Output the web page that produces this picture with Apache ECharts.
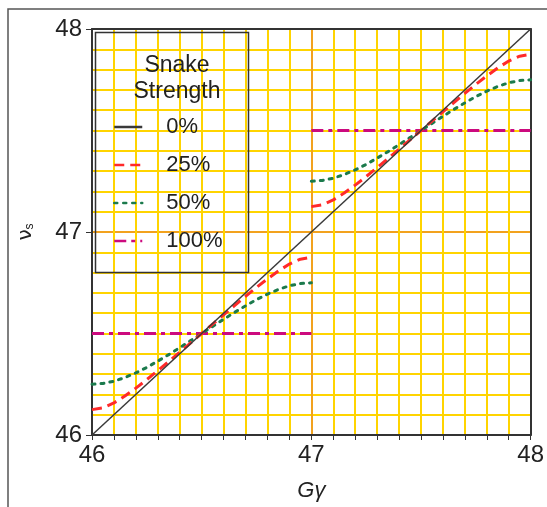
<!DOCTYPE html>
<html>
<head>
<meta charset="utf-8">
<script src="https://cdn.jsdelivr.net/npm/echarts@6/dist/echarts.min.js"></script>
<style>
  html, body { margin: 0; padding: 0; background: #fff; }
  #chart { width: 547px; height: 507px; }
</style>
</head>
<body>
<div id="chart"></div>
<script>
// G-gamma values, one half-range on each side of the integer 47
var gammaLo = [46.00, 46.05, 46.10, 46.15, 46.20, 46.25, 46.30, 46.35, 46.40, 46.45, 46.50,
               46.55, 46.60, 46.65, 46.70, 46.75, 46.80, 46.85, 46.90, 46.95, 47.00];
var gammaHi = [47.00, 47.05, 47.10, 47.15, 47.20, 47.25, 47.30, 47.35, 47.40, 47.45, 47.50,
               47.55, 47.60, 47.65, 47.70, 47.75, 47.80, 47.85, 47.90, 47.95, 48.00];

// spin tune
var nu0 = [46, 48];
var nu25Lo = [46.125, 46.134, 46.158, 46.192, 46.231, 46.273, 46.317, 46.362, 46.408, 46.454, 46.500,
              46.546, 46.592, 46.638, 46.683, 46.727, 46.769, 46.808, 46.842, 46.866, 46.875];
var nu25Hi = [47.125, 47.134, 47.158, 47.192, 47.231, 47.273, 47.317, 47.362, 47.408, 47.454, 47.500,
              47.546, 47.592, 47.638, 47.683, 47.727, 47.769, 47.808, 47.842, 47.866, 47.875];
var nu50Lo = [46.250, 46.254, 46.265, 46.283, 46.306, 46.333, 46.364, 46.396, 46.430, 46.465, 46.500,
              46.535, 46.570, 46.604, 46.636, 46.667, 46.694, 46.717, 46.735, 46.746, 46.750];
var nu50Hi = [47.250, 47.254, 47.265, 47.283, 47.306, 47.333, 47.364, 47.396, 47.430, 47.465, 47.500,
              47.535, 47.570, 47.604, 47.636, 47.667, 47.694, 47.717, 47.735, 47.746, 47.750];
var gamma100Lo = [46, 47], nu100Lo = [46.5, 46.5];
var gamma100Hi = [47, 48], nu100Hi = [47.5, 47.5];

var legendNames = ["0%", "25%", "50%", "100%"];
var axisTicks = [46, 47, 48];

function pairs(xs, ys) {
  return xs.map(function (x, i) { return [x, ys[i]]; });
}

var chart = echarts.init(document.getElementById("chart"), null, { renderer: "canvas" });

var red = { color: "#ff2a2a", width: 3, type: [10, 6] };
var green = { color: "#1b7a4c", width: 3, type: [3, 6], cap: "round" };
var magenta = { color: "#cc0a7e", width: 3, type: [12, 5, 4, 5] };
var black = { color: "#3a3a3a", width: 1.5, type: "solid" };

var option = {
  animation: false,
  textStyle: { fontFamily: "Liberation Sans, Arial, sans-serif" },
  grid: { left: 92, right: 15, top: 29, bottom: 72 },
  title: {
    text: "Snake\nStrength",
    left: 172,
    top: 48,
    textAlign: "center",
    textStyle: { fontSize: 23, fontWeight: "normal", color: "#222", lineHeight: 26 }
  },
  legend: {
    data: legendNames,
    orient: "vertical",
    left: 113,
    top: 116,
    padding: 0,
    itemWidth: 28,
    itemHeight: 14,
    itemGap: 16,
    itemStyle: { opacity: 0 },
    lineStyle: { width: 2.5 },
    textStyle: { fontSize: 22, color: "#222", lineHeight: 22, padding: [0, 0, 0, 19] },
    selectedMode: false
  },
  graphic: [
    { type: "rect", shape: { x: 8, y: 9, width: 620, height: 600 },
      style: { fill: "none", stroke: "#555", lineWidth: 1.5 }, silent: true },
    { type: "rect", shape: { x: 95.5, y: 32.5, width: 153, height: 240 }, z: 50,
      style: { fill: "none", stroke: "#333", lineWidth: 1.5 }, silent: true }
  ],
  xAxis: [{
    type: "value",
    min: 46, max: 48, interval: 1,
    name: "Gγ",
    nameLocation: "middle",
    nameGap: 45,
    nameTextStyle: { fontSize: 22, fontStyle: "italic", color: "#222" },
    axisLine: { show: true, lineStyle: { color: "#333", width: 2 } },
    axisTick: { show: true, length: 5, lineStyle: { color: "#333", width: 1 } },
    minorTick: { show: true, splitNumber: 10, length: 5, lineStyle: { color: "#333", width: 1 } },
    axisLabel: { fontSize: 24, color: "#222", margin: 8,
      formatter: function (v) { return axisTicks.indexOf(v) >= 0 ? String(v) : ""; } },
    splitLine: { show: true, lineStyle: { color: "#f2a21e", width: 2 } },
    minorSplitLine: { show: true, lineStyle: { color: "#ffd400", width: 2 } }
  }, {
    type: "value", position: "top",
    min: 46, max: 48, interval: 1,
    axisLine: { show: true, lineStyle: { color: "#333", width: 2 } },
    axisTick: { show: false }, axisLabel: { show: false }, splitLine: { show: false }
  }],
  yAxis: [{
    type: "value",
    min: 46, max: 48, interval: 1,
    name: "{n|ν}{s|s}",
    nameLocation: "middle",
    nameRotate: 90,
    nameGap: 56,
    nameTextStyle: {
      color: "#222",
      rich: {
        n: { fontSize: 20, fontFamily: "DejaVu Sans", color: "#222" },
        s: { fontSize: 12, color: "#222", verticalAlign: "bottom", padding: [8, 0, 0, 0] }
      }
    },
    axisLine: { show: true, lineStyle: { color: "#333", width: 2 } },
    axisTick: { show: true, length: 6, lineStyle: { color: "#333", width: 1 } },
    axisLabel: { fontSize: 24, color: "#222", margin: 10 },
    splitLine: { show: true, lineStyle: { color: "#f2a21e", width: 2 } },
    minorSplitLine: { show: true, lineStyle: { color: "#ffd400", width: 2 } },
    minorTick: { show: false, splitNumber: 10 }
  }, {
    type: "value", position: "right",
    min: 46, max: 48, interval: 1,
    axisLine: { show: true, lineStyle: { color: "#333", width: 2 } },
    axisTick: { show: false }, axisLabel: { show: false }, splitLine: { show: false }
  }],
  series: [
    { name: "100%", type: "line", symbol: "none", z: 3, lineStyle: magenta, itemStyle: { color: magenta.color },
      data: pairs(gamma100Lo, nu100Lo) },
    { name: "100%", type: "line", symbol: "none", z: 3, lineStyle: magenta, itemStyle: { color: magenta.color },
      data: pairs(gamma100Hi, nu100Hi) },
    { name: "50%", type: "line", symbol: "none", z: 4, lineStyle: green, itemStyle: { color: green.color },
      data: pairs(gammaLo, nu50Lo) },
    { name: "50%", type: "line", symbol: "none", z: 4, lineStyle: green, itemStyle: { color: green.color },
      data: pairs(gammaHi, nu50Hi) },
    { name: "25%", type: "line", symbol: "none", z: 5, lineStyle: red, itemStyle: { color: red.color },
      data: pairs(gammaLo, nu25Lo) },
    { name: "25%", type: "line", symbol: "none", z: 5, lineStyle: red, itemStyle: { color: red.color },
      data: pairs(gammaHi, nu25Hi) },
    { name: "0%", type: "line", symbol: "none", z: 6, lineStyle: black, itemStyle: { color: black.color },
      data: pairs(nu0, nu0) }
  ]
};

chart.setOption(option);
</script>
</body>
</html>
